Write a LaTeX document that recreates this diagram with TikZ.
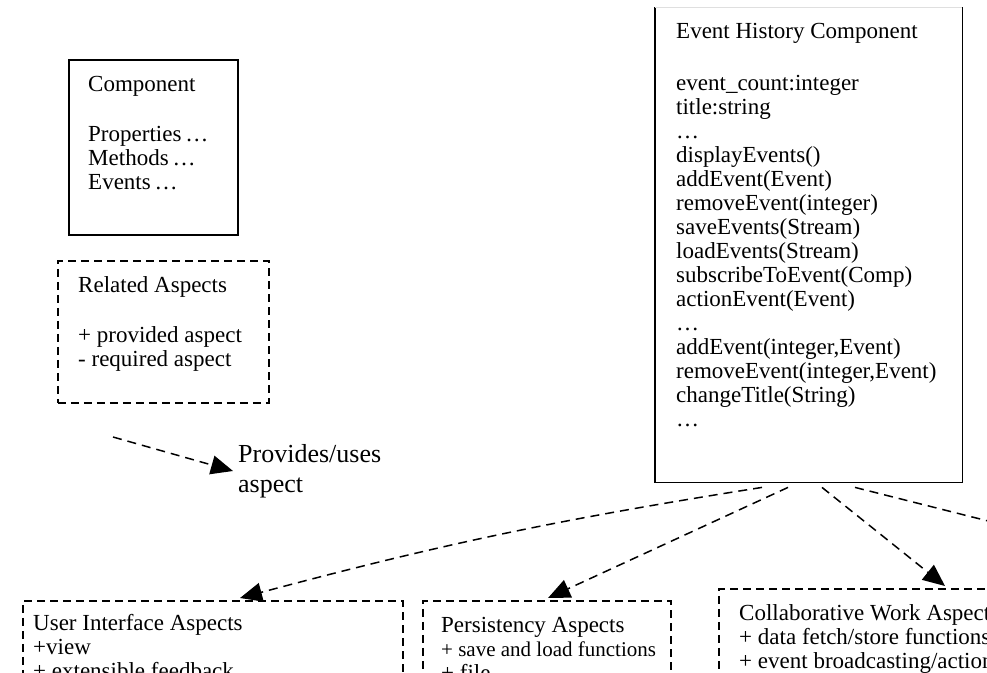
\documentclass[tikz,border=0pt]{standalone}
\usepackage{fontspec}
\setmainfont{Liberation Serif}
\usetikzlibrary{arrows.meta}

\begin{document}
\begin{tikzpicture}[x=1pt,y=-1pt,
  plainbox/.style={draw=black, line width=1.5pt, inner sep=0pt, anchor=north west},
  aspectbox/.style={draw=black, line width=1.5pt, dash pattern=on 8pt off 5pt, inner sep=0pt, anchor=north west},
  boxtext/.style={anchor=north west, inner sep=0pt, align=left, font=\fontsize{23}{24}\selectfont},
  link/.style={line width=1.5pt, dash pattern=on 9pt off 6pt, -{Triangle[length=22pt,width=19pt]}},
  plainlink/.style={line width=1.5pt, dash pattern=on 9pt off 6pt}]

\useasboundingbox (0,0) rectangle (987,672);
\fill[white] (0,0) rectangle (987,672);
\clip (0,0) rectangle (987,672);

% generic component legend
\node[plainbox, minimum width=169pt, minimum height=175pt] (comp) at (68,59) {};
\node[boxtext] (comptxt) at (88,76) {Component\\[26pt]Properties\,…\\Methods\,…\\Events\,…};

% related aspects legend
\node[aspectbox, minimum width=211pt, minimum height=142pt] (rel) at (57,260) {};
\node[boxtext] (reltxt) at (78,276) {Related Aspects\\[26pt]+ provided aspect\\- required aspect};

% dependency legend
\node[anchor=north west, inner sep=0pt, align=left, font=\fontsize{26}{30}\selectfont] (prov) at (238,444) {Provides/uses\\aspect};
\coordinate (legA) at (113,437);
\draw[link] (legA) -- ([xshift=-5pt]prov.west);

% event history component (top edge cut by the page)
\node[inner sep=0pt, anchor=north west, minimum width=307pt, minimum height=475pt] (ehc) at (655,7) {};
\draw[line width=1.5pt] (ehc.north west) -- (ehc.south west) -- (ehc.south east) -- (ehc.north east);
\draw[gray!25, line width=1pt] (ehc.north west) -- (ehc.north east);
\node[boxtext] (ehctxt) at (676,23) {Event History Component\\[28pt]event\_count:integer\\title:string\\…\\displayEvents()\\addEvent(Event)\\removeEvent(integer)\\saveEvents(Stream)\\loadEvents(Stream)\\subscribeToEvent(Comp)\\actionEvent(Event)\\…\\addEvent(integer,Event)\\removeEvent(integer,Event)\\changeTitle(String)\\…};

% aspect boxes
\node[aspectbox, minimum width=380pt, minimum height=120pt] (ui) at (22,600) {};
\node[boxtext] (uitxt) at (33,614) {User Interface Aspects\\+view\\+ extensible feedback};

\node[aspectbox, minimum width=248pt, minimum height=120pt] (pers) at (422,600) {};
\node[boxtext] (perstxt) at (441,617) {Persistency Aspects\\{\fontsize{21}{24}\selectfont + save and load functions}\\+ file};

\node[aspectbox, minimum width=320pt, minimum height=120pt] (collab) at (718,588) {};
\node[boxtext] (collabtxt) at (739,604) {Collaborative Work Aspects\\+ data fetch/store functions\\+ event broadcasting/actioning};

% aspect connectors
\coordinate (offR) at (1000,524);
\draw[link] ([xshift=107pt,yshift=-5pt]ehc.south west) to[bend right=3] ([xshift=218pt,yshift=2pt]ui.north west);
\draw[link] ([xshift=133pt,yshift=-5pt]ehc.south west) -- ([xshift=126pt,yshift=2pt]pers.north west);
\draw[link] ([xshift=167pt,yshift=-5pt]ehc.south west) -- ([xshift=227pt,yshift=2pt]collab.north west);
\draw[plainlink] ([xshift=200pt,yshift=-5pt]ehc.south west) -- (offR);

\end{tikzpicture}
\end{document}
